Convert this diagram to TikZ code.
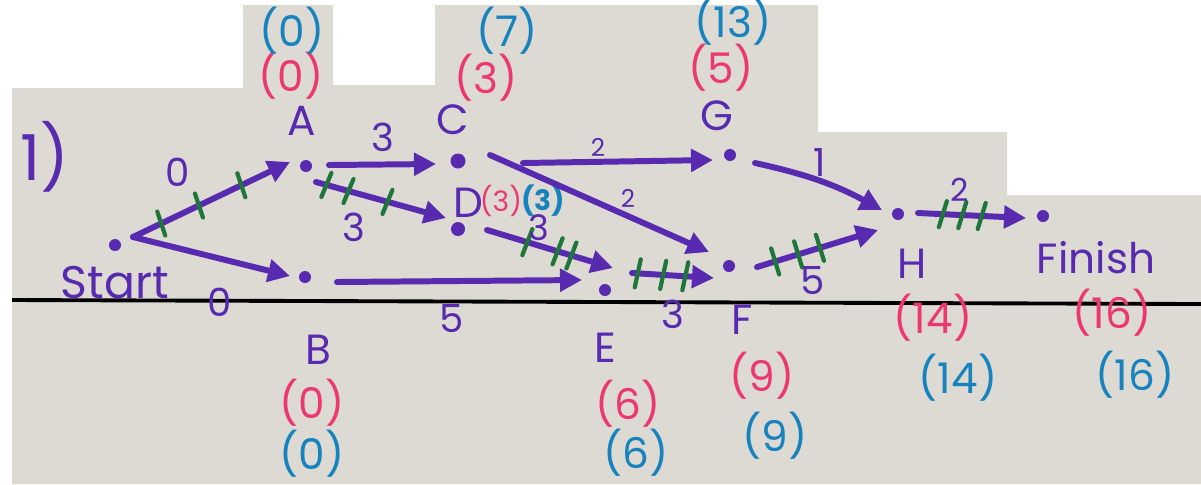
\documentclass[tikz,border=0pt]{standalone}
\usepackage{fontspec}
\setmainfont{Poppins}
\usetikzlibrary{arrows.meta,calc}
\definecolor{paper}{RGB}{221,218,211}
\definecolor{ink}{RGB}{88,42,175}
\definecolor{pinkink}{RGB}{236,56,112}
\definecolor{blueink}{RGB}{22,130,190}
\definecolor{greenink}{RGB}{30,118,58}
\begin{document}
\begin{tikzpicture}[x=0.01cm,y=-0.01cm,
  dot/.style={circle,fill=ink,inner sep=0pt,minimum size=0.12cm},
  arc/.style={draw=ink,line width=1.7pt,line cap=round,-{Triangle[length=0.22cm,width=0.22cm]}},
  tk/.style={draw=greenink,line width=1.2pt,line cap=round},
  vname/.style={text=ink,inner sep=0pt,font=\fontsize{12}{12}\selectfont},
  wt/.style={text=ink,inner sep=0pt,font=\fontsize{11}{11}\selectfont},
  smallwt/.style={text=ink,inner sep=0pt,font=\fontsize{7}{7}\selectfont},
  es/.style={text=pinkink,inner sep=0pt,font=\fontsize{12}{12}\selectfont},
  ls/.style={text=blueink,inner sep=0pt,font=\fontsize{12}{12}\selectfont},
  esmall/.style={text=pinkink,inner sep=0pt,font=\fontsize{8}{8}\selectfont},
  lsmall/.style={text=blueink,inner sep=0pt,font=\fontsize{8}{8}\selectfont\bfseries}
]
\useasboundingbox (0,0) rectangle (1201,484);
% paper
\fill[white] (0,0) rectangle (1201,484);
\fill[paper] (12,88) -- (243,88) -- (243,5) -- (333,5) -- (333,85) -- (435,85) -- (435,5)
  -- (818,5) -- (818,132) -- (1007,132) -- (1007,195) -- (1201,195) -- (1201,484) -- (12,484) -- cycle;
\draw[black,line width=1.1pt] (12,300) coordinate (l1) -- (1201,304) coordinate (l2);

% heading
\node[text=ink,inner sep=0pt,font=\fontsize{18}{18}\selectfont] (num) at (45,157) {1)};

% dots
\node[dot] (S) at (115,245) {};
\node[dot] (A) at (306,166) {};
\node[dot] (B) at (305,277) {};
\node[dot,minimum size=0.15cm] (C) at (458,161) {};
\node[dot,minimum size=0.14cm] (D) at (458,229) {};
\node[dot] (E) at (605,290) {};
\node[dot] (F) at (729,266) {};
\node[dot] (G) at (730,155) {};
\node[dot] (H) at (898,214) {};
\node[dot] (Fin) at (1043,216) {};

% names
\node[vname,font=\fontsize{13}{13}\selectfont] (nS) at (115,283) {Start};
\node[vname] (nA) at (302,121) {A};
\node[vname] (nB) at (318,350) {B};
\node[vname] (nC) at (453,120) {C};
\node[vname] (nD) at (468,203) {D};
\node[vname] (nE) at (605,348) {E};
\node[vname] (nF) at (742,320) {F};
\node[vname] (nG) at (717,116) {G};
\node[vname] (nH) at (912,264) {H};
\node[vname] (nFin) at (1096,258) {Finish};

% times
\node[es] (eA) at (291,76) {(0)};  \node[ls] (lA) at (292,31) {(0)};
\node[es] (eB) at (312,403) {(0)}; \node[ls] (lB) at (312,454) {(0)};
\node[es] (eC) at (486,78) {(3)};  \node[ls] (lC) at (507,31) {(7)};
\node[esmall] (eD) at (501,201) {(3)}; \node[lsmall] (lD) at (543,201) {(3)};
\node[es] (eE) at (628,404) {(6)}; \node[ls] (lE) at (636,453) {(6)};
\node[es] (eF) at (762,376) {(9)}; \node[ls] (lF) at (775,436) {(9)};
\node[es] (eG) at (721,68) {(5)};  \node[ls] (lG) at (733,22) {(13)};
\node[es] (eH) at (933,318) {(14)}; \node[ls] (lH) at (958,378) {(14)};
\node[es] (eFin) at (1112,313) {(16)}; \node[ls] (lFin) at (1135,375) {(16)};

% arcs
\draw[arc] ([shift={(18,-8)}]S.center) -- ([shift={(-16,-4)}]A.center)
  coordinate[pos=0.18] (sa1) coordinate[pos=0.42] (sa2) coordinate[pos=0.69] (sa3);
\draw[arc] ([shift={(18,-8)}]S.center) -- ([shift={(-15,-1)}]B.center);
\draw[arc] ([shift={(23,-1)}]A.center) -- ([shift={(-22,3)}]C.center);
\draw[arc] ([shift={(10,16)}]A.center) -- ([shift={(-12,-11)}]D.center)
  coordinate[pos=0.08] (ad1) coordinate[pos=0.25] (ad2) coordinate[pos=0.55] (ad3);
\draw[arc] ([shift={(32,5)}]B.center) -- ([shift={(-23,-10)}]E.center);
\draw[arc] ([shift={(65,2)}]C.center) -- ([shift={(-17,5)}]G.center);
\draw[arc] ([shift={(32,-6)}]C.center) -- ([shift={(-20,-14)}]F.center);
\draw[arc] ([shift={(29,1)}]D.center) -- ([shift={(8,-22)}]E.center)
  coordinate[pos=0.32] (de1) coordinate[pos=0.56] (de2) coordinate[pos=0.67] (de3);
\draw[arc] ([shift={(27,-17)}]E.center) -- ([shift={(-15,12)}]F.center)
  coordinate[pos=0.07] (ef1) coordinate[pos=0.38] (ef2) coordinate[pos=0.65] (ef3);
\draw[arc] ([shift={(28,1)}]F.center) -- ([shift={(-20,16)}]H.center)
  coordinate[pos=0.15] (fh1) coordinate[pos=0.34] (fh2) coordinate[pos=0.52] (fh3);
\draw[arc] ([shift={(25,8)}]G.center) to[bend left=8] ([shift={(-16,-4)}]H.center);
\draw[arc] ([shift={(20,-1)}]H.center) -- ([shift={(-17,2)}]Fin.center)
  coordinate[pos=0.23] (hf1) coordinate[pos=0.41] (hf2) coordinate[pos=0.59] (hf3);

% critical-path ticks
\foreach \p in {sa1,sa2,sa3} \draw[tk] ($(\p)+(-4,-12)$) -- ($(\p)+(4,12)$);
\foreach \p in {ad1,ad2,ad3} \draw[tk] ($(\p)+(-5,12)$) -- ($(\p)+(5,-12)$);
\foreach \p in {de1,de2,de3} \draw[tk] ($(\p)+(-5,13)$) -- ($(\p)+(5,-13)$);
\foreach \p in {ef1,ef2,ef3} \draw[tk] ($(\p)+(-3,14)$) -- ($(\p)+(3,-14)$);
\foreach \p in {fh1,fh2,fh3} \draw[tk] ($(\p)+(-4,-13)$) -- ($(\p)+(4,13)$);
\foreach \p in {hf1,hf2,hf3} \draw[tk] ($(\p)+(-4,13)$) -- ($(\p)+(4,-13)$);

% weights
\node[wt] (wSA) at (178,172) {0};
\node[wt] (wSB) at (220,302) {0};
\node[wt] (wAC) at (383,137) {3};
\node[wt] (wAD) at (354,227) {3};
\node[wt] (wBE) at (452,319) {5};
\node[smallwt] (wCG) at (598,147) {2};
\node[smallwt] (wCF) at (628,198) {2};
\node[wt,font=\fontsize{10}{10}\selectfont] (wDE) at (539,228) {3};
\node[wt] (wEF) at (673,314) {3};
\node[wt] (wFH) at (813,281) {5};
\node[wt] (wGH) at (820,163) {1};
\node[wt,font=\fontsize{9}{9}\selectfont] (wHF) at (960,190) {2};
\end{tikzpicture}
\end{document}
